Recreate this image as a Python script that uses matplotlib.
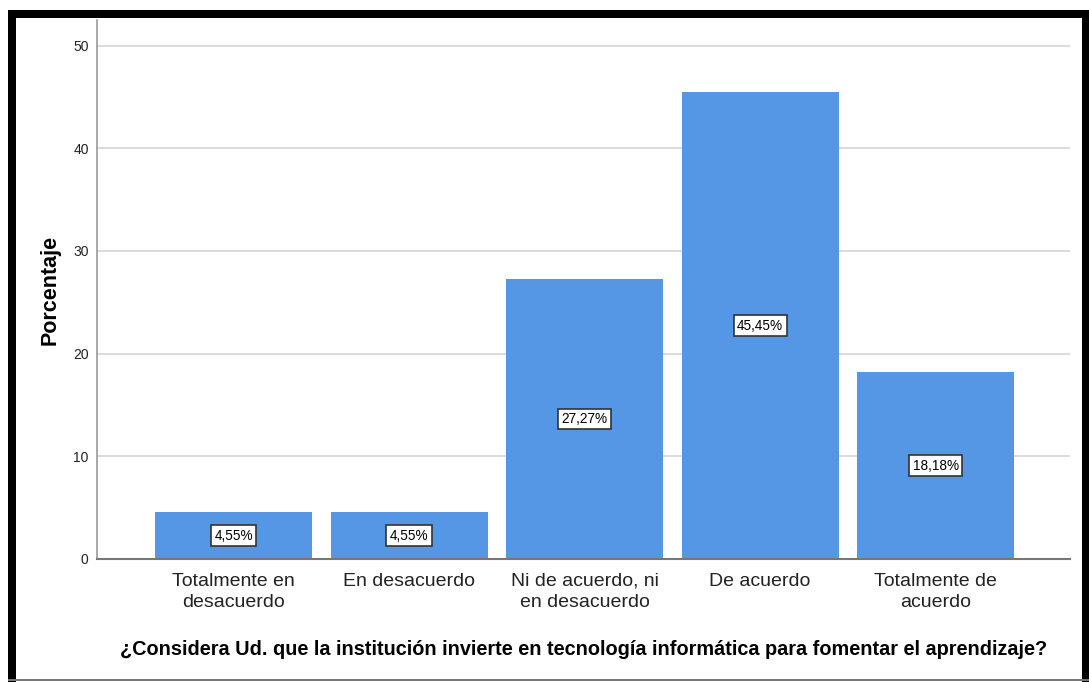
import matplotlib.pyplot as plt
from matplotlib.patches import Rectangle

categorias = ["Totalmente en\ndesacuerdo", "En desacuerdo", "Ni de acuerdo, ni\nen desacuerdo",
              "De acuerdo", "Totalmente de\nacuerdo"]
porcentajes = [4.55, 4.55, 27.27, 45.45, 18.18]
etiquetas = ["4,55%", "4,55%", "27,27%", "45,45%", "18,18%"]
yticks = [0, 10, 20, 30, 40, 50]

plt.rcParams['font.family'] = ['Liberation Sans', 'DejaVu Sans']

fig = plt.figure(figsize=(10.89, 6.82), dpi=100)
ax = fig.add_axes([0.0891, 0.1804, 0.8935, 0.7903])

x = list(range(len(categorias)))
bars = ax.bar(x, porcentajes, width=0.895, color='#5596e5', zorder=2)
for b, lab in zip(bars, etiquetas):
    ax.text(b.get_x() + b.get_width() / 2, b.get_height() / 2, lab, ha='center', va='center',
            fontsize=9.8, zorder=3,
            bbox=dict(boxstyle='square,pad=0.25', fc='white', ec='#333333', lw=1.2))

ax.set_xlim(-0.778, 4.766)
ax.set_ylim(0, 52.5)
ax.set_yticks(yticks)
ax.set_yticklabels([str(v) for v in yticks], fontsize=10, color='#222222')
ax.set_xticks(x)
ax.set_xticklabels(categorias, fontsize=14, color='#222222')
for t in ax.get_xticklabels():
    t.set_linespacing(1.3)
ax.tick_params(axis='y', length=0, pad=6)
ax.tick_params(axis='x', length=0, pad=10)
ax.yaxis.grid(True, color='#d4d4d4', lw=1.2, zorder=0)
for s in ['top', 'right']:
    ax.spines[s].set_visible(False)
ax.spines['left'].set_color('#999999')
ax.spines['bottom'].set_color('#777777')
ax.spines['left'].set_linewidth(1.2)
ax.spines['bottom'].set_linewidth(1.5)

ax.set_ylabel('Porcentaje', fontsize=15.5, fontweight='bold', labelpad=9)
fig.text(0.536, 0.047, '¿Considera Ud. que la institución invierte en tecnología informática para fomentar el aprendizaje?',
         ha='center', va='center', fontsize=14.3, fontweight='bold')

# marco negro alrededor de la imagen
W, H = 1089, 682
def px(x0, y0, w, h, c):
    fig.add_artist(Rectangle((x0 / W, 1 - (y0 + h) / H), w / W, h / H, transform=fig.transFigure,
                             color=c, lw=0, zorder=10))
px(8, 10, 1081, 8, 'black')
px(8, 10, 8, 672, 'black')
px(1082, 10, 7, 672, 'black')
px(8, 679, 1081, 2, '#777777')

fig.savefig('out.png', dpi=100)
